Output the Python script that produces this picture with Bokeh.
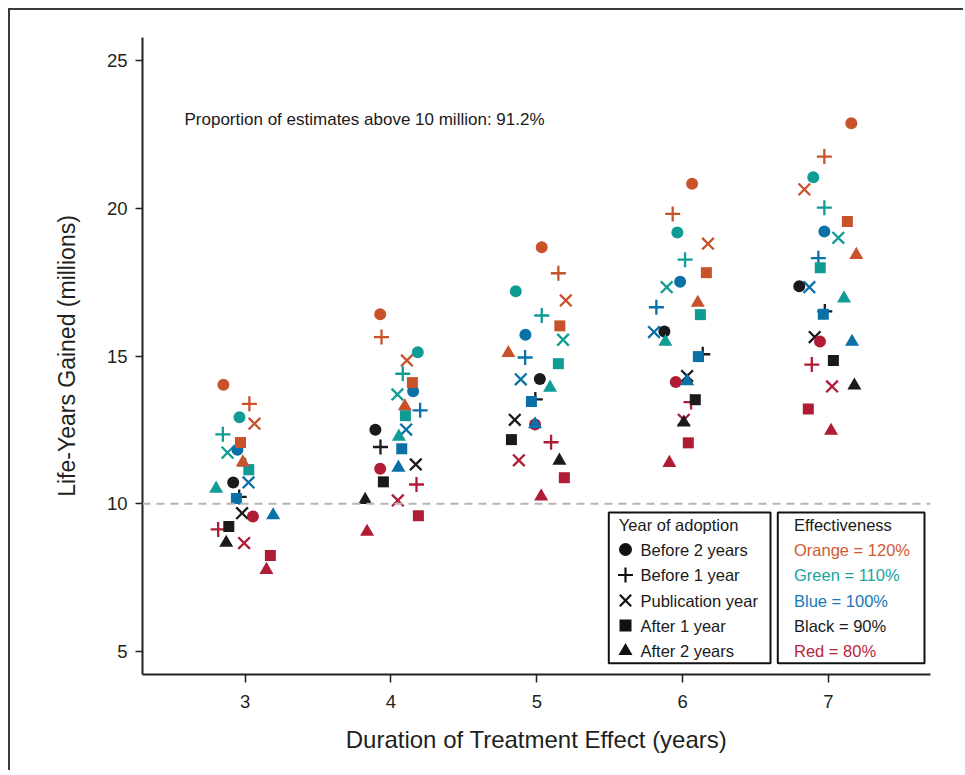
from bokeh.plotting import figure
from bokeh.models import FixedTicker, Span, Label, BoxAnnotation, ColumnDataSource
from bokeh.embed import file_html
from bokeh.resources import INLINE

# ---------------- data ----------------
durations = [3, 4, 5, 6, 7]
y_ticks = [5, 10, 15, 20, 25]
effectiveness = ["Orange = 120%", "Green = 110%", "Blue = 100%", "Black = 90%", "Red = 80%"]
eff_colors = ["#c8522a", "#0e9c95", "#0a70a8", "#1a1a1a", "#b01c35"]
eff_text_colors = ["#cf5b31", "#17a59d", "#1579b5", "#1a1a1a", "#b8253c"]
adoption = ["Before 2 years", "Before 1 year", "Publication year", "After 1 year", "After 2 years"]
adoption_markers = ["circle", "cross", "x", "square", "triangle"]

# rows: effectiveness (120, 110, 100, 90, 80 %); columns: durations 3..7
# values = life-years gained (millions); x = plotted (jittered) duration position
y_before2 = [[14.03, 16.41, 18.68, 20.83, 22.88],
             [12.93, 15.13, 17.19, 19.18, 21.05],
             [11.83, 13.81, 15.72, 17.51, 19.21],
             [10.72, 12.50, 14.22, 15.83, 17.36],
             [9.57, 11.18, 12.68, 14.12, 15.49]]
x_before2 = [[2.851, 3.926, 5.034, 6.065, 7.157],
             [2.961, 4.184, 4.856, 5.964, 6.896],
             [2.947, 4.152, 4.922, 5.983, 6.972],
             [2.918, 3.893, 5.021, 5.875, 6.800],
             [3.053, 3.926, 4.988, 5.953, 6.942]]

y_before1 = [[13.38, 15.64, 17.80, 19.81, 21.75],
             [12.35, 14.40, 16.37, 18.26, 20.02],
             [11.30, 13.16, 14.95, 16.65, 18.31],
             [10.23, 11.92, 13.53, 15.06, 16.51],
             [9.13, 10.65, 12.08, 13.44, 14.71]]
x_before1 = [[3.029, 3.935, 5.148, 5.932, 6.972],
             [2.847, 4.081, 5.034, 6.017, 6.972],
             [3.000, 4.200, 4.920, 5.820, 6.931],
             [2.959, 3.928, 4.990, 6.138, 6.975],
             [2.815, 4.175, 5.098, 6.058, 6.886]]

y_publication = [[12.71, 14.85, 16.88, 18.80, 20.64],
                 [11.73, 13.70, 15.55, 17.33, 19.00],
                 [10.72, 12.51, 14.21, 15.81, 17.33],
                 [9.68, 11.33, 12.84, 14.32, 15.64],
                 [8.67, 10.11, 11.47, 12.84, 13.97]]
x_publication = [[3.064, 4.109, 5.199, 6.174, 6.835],
                 [2.879, 4.044, 5.180, 5.891, 7.068],
                 [3.023, 4.104, 4.890, 5.804, 6.869],
                 [2.979, 4.170, 4.849, 6.031, 6.906],
                 [2.993, 4.047, 4.877, 6.008, 7.025]]

y_after1 = [[12.07, 14.10, 16.02, 17.82, 19.55],
            [11.15, 12.98, 14.74, 16.40, 17.99],
            [10.18, 11.86, 13.46, 14.98, 16.41],
            [9.23, 10.74, 12.17, 13.52, 14.85],
            [8.25, 9.59, 10.88, 12.06, 13.21]]
x_after1 = [[2.968, 4.147, 5.158, 6.163, 7.130],
            [3.025, 4.099, 5.148, 6.122, 6.944],
            [2.940, 4.074, 4.963, 6.108, 6.965],
            [2.888, 3.948, 4.826, 6.087, 7.034],
            [3.173, 4.188, 5.189, 6.039, 6.862]]

y_after2 = [[11.40, 13.30, 15.10, 16.80, 18.42],
            [10.51, 12.27, 13.93, 15.48, 16.95],
            [9.61, 11.22, 12.69, 14.15, 15.48],
            [8.68, 10.13, 11.46, 12.75, 14.00],
            [7.76, 9.05, 10.25, 11.38, 12.47]]
x_after2 = [[2.984, 4.095, 4.805, 6.104, 7.191],
            [2.801, 4.054, 5.091, 5.882, 7.107],
            [3.192, 4.051, 4.988, 6.031, 7.162],
            [2.870, 3.823, 5.155, 6.008, 7.178],
            [3.146, 3.836, 5.030, 5.909, 7.018]]

threshold = 10
annotation_text = "Proportion of estimates above 10 million: 91.2%"

# ---------------- layout ----------------
FONT = "Liberation Sans"
X0, X1 = 2.296, 7.70
Y0, Y1 = 4.22, 25.78
W, H = 963, 770
ML, MT = 142, 37
FW, FH = 788, 637
MR, MB = W - ML - FW, H - MT - FH


def px_x(px):
    return X0 + (px - ML) / FW * (X1 - X0)


def px_y(py):
    return Y1 - (py - MT) / FH * (Y1 - Y0)


p = figure(width=W, height=H, x_range=(X0, X1), y_range=(Y0, Y1),
           output_backend="svg", toolbar_location=None,
           min_border_left=ML, min_border_right=MR,
           min_border_top=MT, min_border_bottom=MB,
           styles={"box-shadow": "inset 8px 8px 0 0 #ffffff, inset 10px 10px 0 0 #3a3a3a"})
p.border_fill_color = None
p.background_fill_color = None
p.outline_line_color = None
p.grid.visible = False

for ax in (p.xaxis[0], p.yaxis[0]):
    ax.axis_line_width = 2
    ax.axis_line_color = "#231f20"
    ax.major_tick_line_color = "#231f20"
    ax.major_tick_line_width = 1.5
    ax.major_tick_in = 0
    ax.minor_tick_line_color = None
    ax.major_label_text_font = FONT
    ax.major_label_text_font_size = "18.5px"
    ax.major_label_text_color = "#231f20"
    ax.axis_label_text_font = FONT
    ax.axis_label_text_font_style = "normal"
    ax.axis_label_text_color = "#231f20"

p.xaxis.ticker = FixedTicker(ticks=durations)
p.yaxis.ticker = FixedTicker(ticks=y_ticks)
p.xaxis.major_tick_out = 8
p.yaxis.major_tick_out = 7
p.xaxis.major_label_standoff = 12
p.yaxis.major_label_standoff = 8
p.xaxis.axis_label = "Duration of Treatment Effect (years)"
p.yaxis.axis_label = "Life-Years Gained (millions)"
p.xaxis.axis_label_text_font_size = "24px"
p.yaxis.axis_label_text_font_size = "23px"
p.xaxis.axis_label_standoff = 15
p.yaxis.axis_label_standoff = 24

p.add_layout(Span(location=threshold, dimension="width", line_color="#b5b5b5",
                  line_width=2, line_dash="8 6"))

# ---------------- points ----------------
series = {
    "circle": (x_before2, y_before2),
    "cross": (x_before1, y_before1),
    "x": (x_publication, y_publication),
    "square": (x_after1, y_after1),
    "triangle": (x_after2, y_after2),
}
marker_style = {
    "circle": dict(size=12, line_width=0),
    "cross": dict(size=15, line_width=2.3),
    "x": dict(size=16.5, line_width=2.3),
    "square": dict(size=11, line_width=0),
    "triangle": dict(size=14, line_width=0),
}
draw_order = ["x", "circle", "cross", "square", "triangle"]

for mk in draw_order:
    xs_all, ys_all = series[mk]
    xs, ys, cs = [], [], []
    for i, col in enumerate(eff_colors):
        for j in range(len(durations)):
            xs.append(xs_all[i][j])
            ys.append(ys_all[i][j])
            cs.append(col)
    src = ColumnDataSource(dict(x=xs, y=ys, c=cs))
    st = marker_style[mk]
    if mk in ("cross", "x"):
        p.scatter("x", "y", source=src, marker=mk, size=st["size"],
                  line_color="c", line_width=st["line_width"])
    else:
        p.scatter("x", "y", source=src, marker=mk, size=st["size"],
                  fill_color="c", line_color=None)

# ---------------- annotation ----------------
p.add_layout(Label(x=px_x(184), y=px_y(119), text=annotation_text,
                   text_font=FONT, text_font_size="17px", text_color="#1a1a1a",
                   text_baseline="middle", text_align="left"))

# ---------------- legends ----------------
box_top, box_bot = px_y(512), px_y(662.7)
for bl, br in ((608.3, 770), (777.3, 924)):
    p.add_layout(BoxAnnotation(left=px_x(bl), right=px_x(br), top=box_top, bottom=box_bot,
                               fill_color="white", fill_alpha=1, line_color="#111111",
                               line_alpha=1, line_width=2, level="underlay"))

title_py = 524
row_py = [549, 574.5, 600, 625, 650.5]
LEG_FS = "16.5px"

p.add_layout(Label(x=px_x(618.3), y=px_y(title_py), text="Year of adoption",
                   text_font=FONT, text_font_size=LEG_FS, text_color="#1a1a1a",
                   text_baseline="middle"))
p.add_layout(Label(x=px_x(793.5), y=px_y(title_py), text="Effectiveness",
                   text_font=FONT, text_font_size=LEG_FS, text_color="#1a1a1a",
                   text_baseline="middle"))

leg_sizes = {"circle": 13, "cross": 15, "x": 16, "square": 12, "triangle": 14}
for k, (lab, mk) in enumerate(zip(adoption, adoption_markers)):
    yk = px_y(row_py[k])
    if mk in ("cross", "x"):
        p.scatter([px_x(625)], [yk], marker=mk, size=leg_sizes[mk],
                  line_color="#111111", line_width=2.2)
    else:
        p.scatter([px_x(625)], [yk], marker=mk, size=leg_sizes[mk],
                  fill_color="#111111", line_color=None)
    p.add_layout(Label(x=px_x(640), y=yk, text=lab, text_font=FONT,
                       text_font_size=LEG_FS, text_color="#1a1a1a",
                       text_baseline="middle"))

for k, (lab, tc) in enumerate(zip(effectiveness, eff_text_colors)):
    p.add_layout(Label(x=px_x(793.5), y=px_y(row_py[k]), text=lab, text_font=FONT,
                       text_font_size=LEG_FS, text_color=tc,
                       text_baseline="middle"))

open("out.html", "w").write(file_html(p, INLINE))
